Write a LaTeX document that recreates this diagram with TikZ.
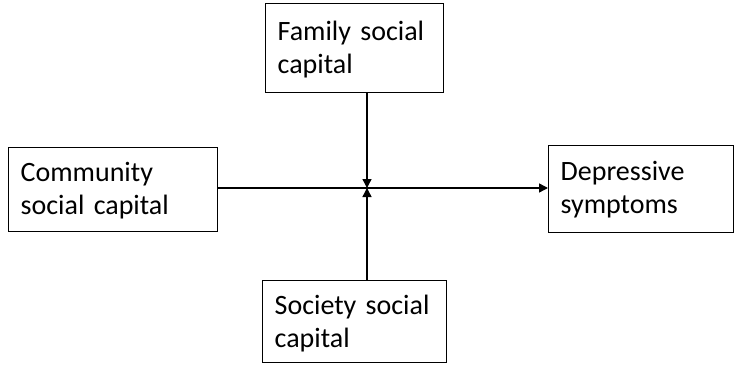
\documentclass[tikz,border=0pt]{standalone}
\usepackage{fontspec}
\setmainfont{Carlito}
\usetikzlibrary{arrows.meta}
\begin{document}
\begin{tikzpicture}[x=1pt,y=-1pt,
  box/.style={draw, line width=1.3pt, rectangle, anchor=north west, align=left,
    inner xsep=12pt, inner ysep=0pt, text height=34pt, text depth=50pt,
    font=\fontsize{28}{33}\selectfont},
  link/.style={line width=1.4pt, -{Triangle[length=9pt,width=9pt]}}]
\useasboundingbox (0,0) rectangle (746,366);

% the four constructs
\node[box, text width=185pt] (comm) at (8,147) {Community\\social capital};
\node[box, text width=154pt, text height=37pt, text depth=52pt] (fam) at (265,3) {Family social\\capital};
\node[box, text width=160pt, text height=34pt, text depth=48pt] (soc) at (262,280) {Society social\\capital};
\node[box, text width=161pt, text height=35pt, text depth=52pt] (dep) at (548,145) {Depressive\\symptoms};

% meeting point of the moderating paths on the main path
\coordinate (mid) at (367,188);

% main effect and the two moderating paths
\draw[link] (comm.east |- mid) -- (dep.west |- mid);
\draw[link] (fam.south -| mid) -- (mid);
\draw[link] (soc.north -| mid) -- (mid);
\end{tikzpicture}
\end{document}
